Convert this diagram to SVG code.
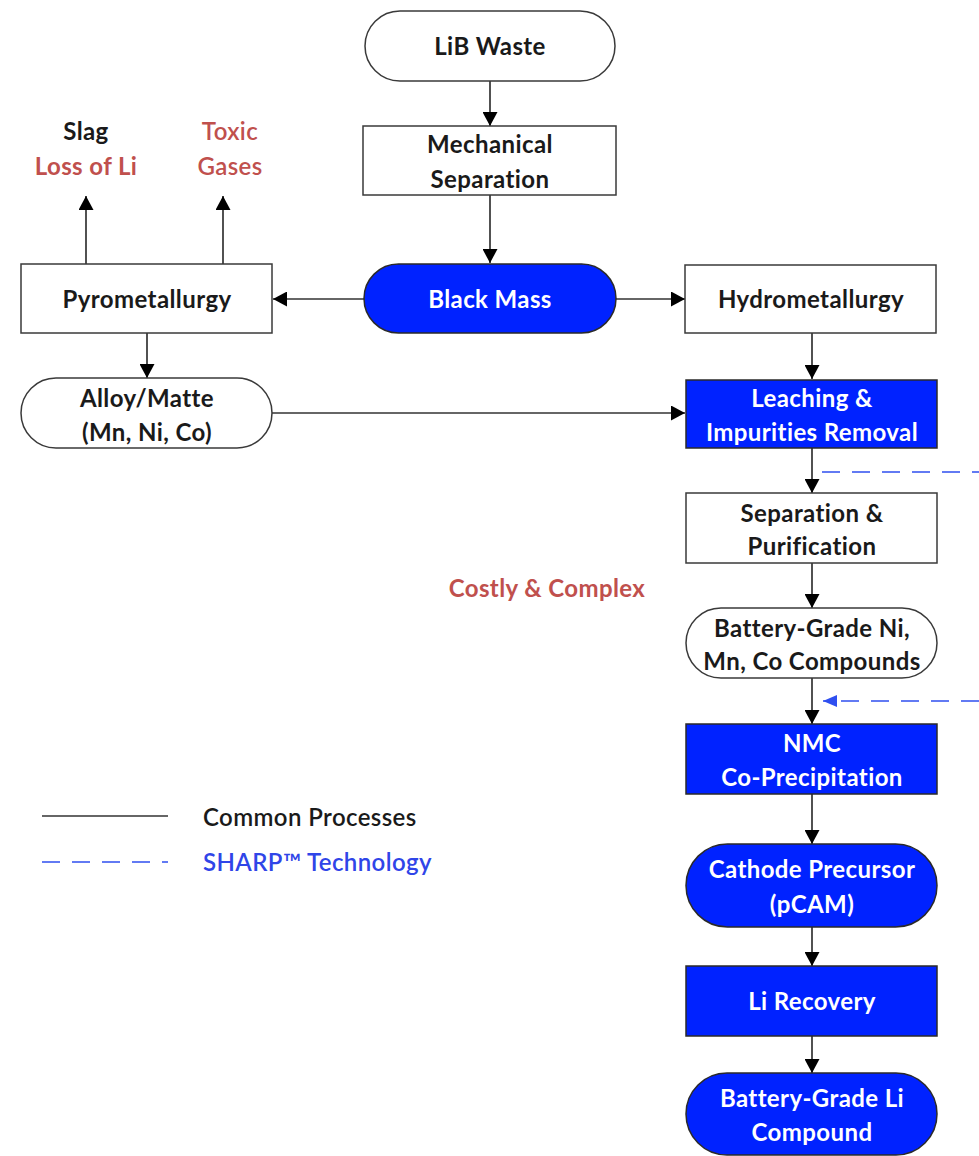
<svg xmlns="http://www.w3.org/2000/svg" width="979" height="1156" viewBox="0 0 979 1156">
<defs>
<marker id="ah" markerWidth="14" markerHeight="15" refX="14" refY="7.5" orient="auto" markerUnits="userSpaceOnUse"><path d="M0,0 L14,7.5 L0,15 z" fill="#000"/></marker>
<marker id="ahb" markerWidth="14" markerHeight="12" refX="14" refY="6" orient="auto" markerUnits="userSpaceOnUse"><path d="M0,0 L14,6 L0,12 z" fill="#2f4ff0"/></marker>
<style>
.w{fill:#fff;stroke:#3a3a3a;stroke-width:1.5}
.b{fill:#0022ff;stroke:#2a2a2a;stroke-width:1.5}
text{font-family:Lato,"Liberation Sans",sans-serif;font-size:24px;font-weight:bold;text-anchor:middle;letter-spacing:0.4px}
.tw{fill:#1a1a1a}
.tb{fill:#fff}
.red{fill:#c0504d}
.ln{stroke:#333;stroke-width:1.7;fill:none}
.dash{stroke:#2f4ff0;stroke-width:1.7;fill:none;stroke-dasharray:18,12}
</style>
</defs>
<rect width="979" height="1156" fill="#fff"/>
<g id="connectors">
<line class="ln" x1="490" y1="81" x2="490" y2="126" marker-end="url(#ah)"/>
<line class="ln" x1="490" y1="195" x2="490" y2="263" marker-end="url(#ah)"/>
<line class="ln" x1="364" y1="299" x2="273" y2="299" marker-end="url(#ah)"/>
<line class="ln" x1="616" y1="299" x2="685" y2="299" marker-end="url(#ah)"/>
<line class="ln" x1="86" y1="264" x2="86" y2="196" marker-end="url(#ah)"/>
<line class="ln" x1="223" y1="264" x2="223" y2="196" marker-end="url(#ah)"/>
<line class="ln" x1="147" y1="333" x2="147" y2="378" marker-end="url(#ah)"/>
<line class="ln" x1="272" y1="413" x2="685" y2="413" marker-end="url(#ah)"/>
<line class="ln" x1="812" y1="333" x2="812" y2="379" marker-end="url(#ah)"/>
<line class="ln" x1="812" y1="448" x2="812" y2="493" marker-end="url(#ah)"/>
<line class="ln" x1="812" y1="563" x2="812" y2="608" marker-end="url(#ah)"/>
<line class="ln" x1="812" y1="678" x2="812" y2="724" marker-end="url(#ah)"/>
<line class="ln" x1="812" y1="794" x2="812" y2="844" marker-end="url(#ah)"/>
<line class="ln" x1="812" y1="927" x2="812" y2="966" marker-end="url(#ah)"/>
<line class="ln" x1="812" y1="1036" x2="812" y2="1073" marker-end="url(#ah)"/>
<line class="dash" x1="822" y1="472" x2="979" y2="472"/>
<line class="dash" x1="979" y1="701" x2="823" y2="701" marker-end="url(#ahb)"/>
</g>
<g id="lib-waste"><rect class="w" x="365" y="11" width="250" height="70" rx="35"/><text class="tw" x="490" y="55">LiB Waste</text></g>
<g id="mechanical"><rect class="w" x="363" y="126" width="253" height="69"/><text class="tw" x="490" y="153">Mechanical</text><text class="tw" x="490" y="188">Separation</text></g>
<g id="black-mass"><rect class="b" x="364" y="264" width="252" height="69" rx="34.5"/><text class="tb" x="490" y="308">Black Mass</text></g>
<g id="pyro"><rect class="w" x="21" y="264" width="251" height="69"/><text class="tw" x="147" y="308">Pyrometallurgy</text></g>
<g id="slag"><text class="tw" x="86" y="140">Slag</text><text class="red" x="86" y="175">Loss of Li</text></g>
<g id="toxic"><text class="red" x="230" y="140" style="font-weight:600">Toxic</text><text class="red" x="230" y="175" style="font-weight:600">Gases</text></g>
<g id="alloy"><rect class="w" x="21" y="378" width="251" height="70" rx="35"/><text class="tw" x="147" y="407">Alloy/Matte</text><text class="tw" x="147" y="441">(Mn, Ni, Co)</text></g>
<g id="hydro"><rect class="w" x="685" y="265" width="251" height="68"/><text class="tw" x="811" y="308">Hydrometallurgy</text></g>
<g id="leaching"><rect class="b" x="686" y="380" width="251" height="68"/><text class="tb" x="812" y="407">Leaching &amp;</text><text class="tb" x="812" y="441">Impurities Removal</text></g>
<g id="separation"><rect class="w" x="686" y="493" width="251" height="70"/><text class="tw" x="812" y="522">Separation &amp;</text><text class="tw" x="812" y="555">Purification</text></g>
<g id="costly"><text class="red" x="547" y="597">Costly &amp; Complex</text></g>
<g id="ni-mn-co"><rect class="w" x="686" y="608" width="251" height="70" rx="35"/><text class="tw" x="812" y="637">Battery-Grade Ni,</text><text class="tw" x="812" y="670">Mn, Co Compounds</text></g>
<g id="nmc"><rect class="b" x="686" y="724" width="251" height="70"/><text class="tb" x="812" y="752">NMC</text><text class="tb" x="812" y="786">Co-Precipitation</text></g>
<g id="pcam"><rect class="b" x="686" y="844" width="251" height="83" rx="41.5"/><text class="tb" x="812" y="878">Cathode Precursor</text><text class="tb" x="812" y="913">(pCAM)</text></g>
<g id="li-recovery"><rect class="b" x="686" y="966" width="251" height="70"/><text class="tb" x="812" y="1010">Li Recovery</text></g>
<g id="li-compound"><rect class="b" x="686" y="1073" width="251" height="82" rx="41"/><text class="tb" x="812" y="1107">Battery-Grade Li</text><text class="tb" x="812" y="1141">Compound</text></g>
<g id="legend">
<line class="ln" x1="42" y1="816" x2="168" y2="816"/>
<line class="dash" x1="42" y1="862" x2="168" y2="862"/>
<text class="tw" x="203" y="826" style="text-anchor:start;font-weight:600">Common Processes</text>
<text x="203" y="871" style="text-anchor:start;font-weight:600;fill:#2f45e8">SHARP™ Technology</text>
</g>
</svg>
